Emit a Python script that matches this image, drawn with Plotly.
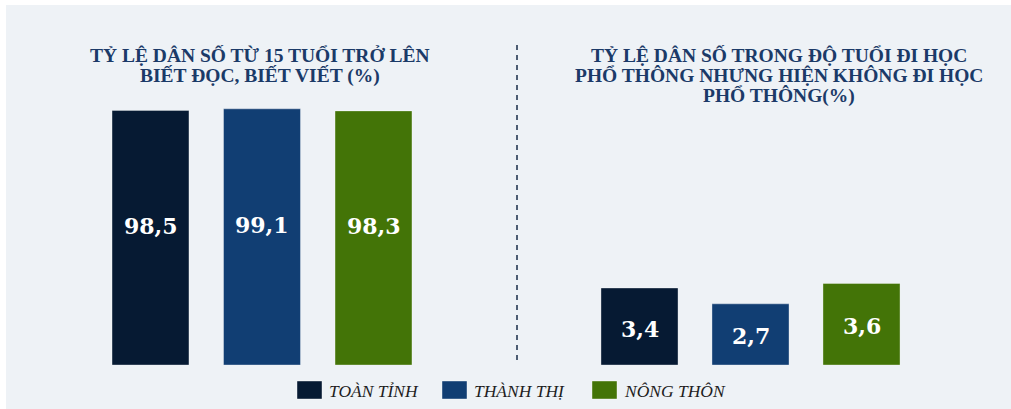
import plotly.graph_objects as go

W, H = 1011, 409

categories = ["TOÀN TỈNH", "THÀNH THỊ", "NÔNG THÔN"]
colors = ["#061a33", "#113e73", "#437407"]
literacy = [98.5, 99.1, 98.3]
out_of_school = [3.4, 2.7, 3.6]
literacy_labels = ["98,5", "99,1", "98,3"]
out_labels = ["3,4", "2,7", "3,6"]
title_left_lines = ["TỶ LỆ DÂN SỐ TỪ 15 TUỔI TRỞ LÊN", "BIẾT ĐỌC, BIẾT VIẾT (%)"]
title_right_lines = ["TỶ LỆ DÂN SỐ TRONG ĐỘ TUỔI ĐI HỌC",
                     "PHỔ THÔNG NHƯNG HIỆN KHÔNG ĐI HỌC", "PHỔ THÔNG(%)"]


def px_x(p):
    return p / W


def px_y(p):
    return 1 - p / H


label_font = dict(family="DejaVu Serif", size=22, color="white", weight="bold")
bar_line = dict(color="rgba(255,255,255,0.35)", width=1)

fig = go.Figure()
xs = list(range(len(categories)))
fig.add_trace(go.Bar(
    x=xs, y=literacy, marker=dict(color=colors, line=bar_line),
    width=0.69, xaxis="x", yaxis="y", showlegend=False, hoverinfo="skip",
))
fig.add_trace(go.Bar(
    x=xs, y=out_of_school, marker=dict(color=colors, line=bar_line),
    width=0.694, xaxis="x2", yaxis="y2", showlegend=False, hoverinfo="skip",
))

axis_common = dict(showgrid=False, zeroline=False, showticklabels=False,
                   showline=False, ticks="")
fig.update_layout(
    width=W, height=H, margin=dict(l=0, r=0, t=0, b=0),
    paper_bgcolor="white", plot_bgcolor="rgba(0,0,0,0)",
    xaxis=dict(domain=[px_x(94.75), px_x(429.25)], range=[-0.5, 2.5], **axis_common),
    xaxis2=dict(domain=[px_x(584), px_x(917)], range=[-0.5, 2.5], anchor="y2", **axis_common),
    yaxis=dict(domain=[px_y(365), px_y(45)], range=[0, 320 / 2.585], **axis_common),
    yaxis2=dict(domain=[px_y(365), px_y(45)], range=[0, 320 / 22.65], anchor="x2", **axis_common),
)

shapes = [
    dict(type="rect", xref="paper", yref="paper", x0=px_x(6), x1=1, y0=0, y1=px_y(5),
         fillcolor="#eef2f6", line=dict(width=0), layer="below"),
    dict(type="line", xref="paper", yref="paper", x0=px_x(517), x1=px_x(517),
         y0=px_y(45), y1=px_y(364), line=dict(color="#4d5d73", width=2, dash="5px,5px")),
]

annotations = []
# value labels inside bars
for xi, v, lab in zip(xs, literacy, literacy_labels):
    annotations.append(dict(text=lab, x=xi, y=v / 2, xref="x", yref="y", yshift=12,
                            showarrow=False, font=label_font))
for xi, v, lab in zip(xs, out_of_school, out_labels):
    annotations.append(dict(text=lab, x=xi, y=v / 2, xref="x2", yref="y2", yshift=-2,
                            showarrow=False, font=label_font))

title_font = dict(family="Liberation Serif", size=19.5, color="#1b3a68", weight="bold")
for cx, lines in ((260, title_left_lines), (779, title_right_lines)):
    for k, line in enumerate(lines):
        annotations.append(dict(text=line, xref="paper", yref="paper", x=px_x(cx),
                                y=px_y(55 + 20.5 * k), xanchor="center", yanchor="middle",
                                showarrow=False, font=title_font))

legend_sq_x = [297, 442, 592]
for name, col, sx in zip(categories, colors, legend_sq_x):
    shapes.append(dict(type="rect", xref="paper", yref="paper",
                       x0=px_x(sx), x1=px_x(sx + 25), y0=px_y(399), y1=px_y(381),
                       fillcolor=col, line=dict(color="rgba(255,255,255,0.4)", width=1)))
    annotations.append(dict(text=f"<i>{name}</i>", xref="paper", yref="paper",
                            x=px_x(sx + 30), y=px_y(391), xanchor="left", yanchor="middle",
                            showarrow=False,
                            font=dict(family="Liberation Serif", size=17.5, color="#1e1e1e")))

fig.update_layout(shapes=shapes, annotations=annotations)
fig.write_html("out.html")
